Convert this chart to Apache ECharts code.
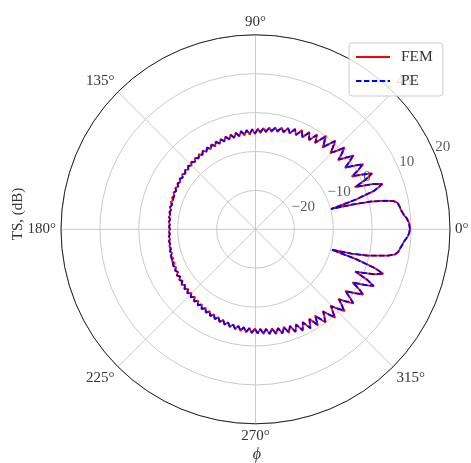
<!DOCTYPE html>
<html>
<head>
<meta charset="utf-8">
<script src="https://cdn.jsdelivr.net/npm/echarts@6/dist/echarts.min.js"></script>
<style>
  html, body { margin: 0; padding: 0; background: #ffffff; }
  #chart { width: 471px; height: 463px; }
</style>
</head>
<body>
<div id="chart"></div>
<script>
// Scattering angle phi (degrees), shared by both solutions
const phi = [
  0, 2, 4, 5.5, 7, 9, 10.5, 11.5, 12.5, 13.5, 14.3, 15,
  16.5, 18, 19.6, 21, 23, 24.3, 25.6, 27, 28.7, 30, 31.2, 32.7, 34.5,
  35.8, 37, 38.5, 40, 41.3, 42.6, 44, 45.5, 46.8, 48, 49.3, 50.6, 51.8, 53, 54.2, 55.4,
  57, 59, 61, 63, 64.9, 66.7, 68.5, 70.3, 72.1, 73.9, 75.6, 77.3, 79, 80.7, 82.3, 83.9, 85.5, 87.1, 88.7,
  90.3, 91.9, 93.5, 95.1, 96.7, 98.3, 99.9, 101.5, 103.1, 104.7, 106.3, 107.9, 109.5, 111.1, 112.7, 114.3, 115.9, 117.5, 119.1, 120.7,
  122.3, 123.9, 125.5, 127.1, 128.7, 130.3, 131.9, 133.5, 135.1, 136.7, 138.3, 139.9, 141.5, 143.1, 144.7, 146.3, 147.9, 149.5, 151.1, 152.7,
  154.3, 155.9, 157.5, 159.1, 160.7, 162.3, 163.9, 165.5, 167.1, 168.7, 170.3, 171.9, 173.5, 175.1, 176.7, 178.3, 180,
  181.6, 183.2, 184.8, 186.4, 188, 189.6, 191.2, 192.8, 194.4, 196, 197.6, 199.2, 200.8, 202.4, 204, 205.6, 207.2, 208.8, 210.4, 212,
  213.6, 215.2, 216.8, 218.4, 220, 221.6, 223.2, 224.8, 226.4, 228, 229.6, 231.2, 232.8, 234.4, 236, 237.6, 239.2, 240.8, 242.4, 244,
  245.6, 247.2, 248.8, 250.4, 252, 253.6, 255.2, 256.8, 258.4, 260, 261.6, 263.2, 264.8, 266.4, 268, 269.6, 271.2, 272.8, 274.4, 276,
  277.7, 279.4, 281.1, 282.8, 284.5, 286.2, 287.9, 289.6, 291.3, 293.1, 295, 297, 299, 301, 303,
  304.6, 305.8, 307, 308.2, 309.4, 310.7, 312, 313.2, 314.5, 316, 317.4, 318.7, 320, 321.5, 323, 324.2,
  325.5, 327.3, 328.8, 330, 331.3, 333, 334.4, 335.7, 337, 339.2, 340.8, 342, 343.5,
  345, 345.8, 346.8, 347.8, 348.8, 349.8, 351, 352.5, 354, 355.5, 357, 358.5, 360
];

// Target strength from the finite-element solution (dB)
const femTS = [
  9.7, 9.6, 9.1, 8.3, 7.8, 7.5, 7.2, 6.4, 4.0, 0.5, -4.0, -9.8,
  -3.0, 2.2, 4.7, 2.6, -2.3, 1.0, 3.3, 1.2, -1.8, 0.6, 2.4, 0.3, -2.1,
  0.0, 1.6, -0.5, -2.3, -0.3, 1.1, -1.0, -2.6, -0.7, 0.7, -1.2, -2.9, -1.2, 0.1, -1.6, -3.1,
  -0.9, -3.3, -1.4, -3.5, -1.8, -3.7, -2.2, -3.9, -2.6, -4.1, -3.0, -4.3, -3.3, -4.6, -3.6, -4.9, -3.9, -5.2, -4.1,
  -5.5, -4.2, -5.6, -4.3, -5.7, -4.4, -5.8, -4.6, -5.9, -4.8, -6.0, -4.9, -6.1, -5.1, -6.2, -5.2, -6.3, -5.4, -6.4, -5.5,
  -6.5, -5.6, -6.6, -5.8, -6.7, -5.9, -6.8, -6.0, -6.8, -6.1, -6.9, -6.3, -7.0, -6.4, -7.1, -6.5, -7.2, -6.7, -7.3, -6.8,
  -7.4, -6.9, -7.4, -7.0, -7.5, -7.1, -7.6, -7.3, -7.7, -7.4, -7.8, -7.5, -7.9, -7.6, -8.0, -7.7, -8.0,
  -7.7, -8.0, -7.6, -7.9, -7.5, -7.8, -7.4, -7.8, -7.3, -7.7, -7.1, -7.6, -7.0, -7.5, -6.8, -7.4, -6.7, -7.3, -6.5, -7.2,
  -6.4, -7.1, -6.2, -7.0, -6.1, -6.9, -5.9, -6.8, -5.8, -6.7, -5.6, -6.5, -5.4, -6.3, -5.2, -6.1, -5.0, -5.9, -4.8, -5.7,
  -4.6, -5.5, -4.4, -5.3, -4.2, -5.1, -4.0, -4.9, -3.8, -4.8, -3.6, -4.7, -3.4, -4.6, -3.3, -4.5, -3.2, -4.4, -3.0, -4.3,
  -2.8, -4.2, -2.6, -4.0, -2.3, -3.9, -2.0, -3.7, -1.6, -3.5, -1.2, -3.3, -0.8, -3.2, -0.5,
  -3.1, -1.5, 0.0, -1.3, -2.8, -1.0, 0.6, -0.9, -2.5, -0.5, 1.1, -0.4, -2.2, 0.0, 1.6, -0.2,
  -2.0, 0.5, 2.4, 0.7, -1.6, 1.6, 3.8, 1.4, -2.2, 2.6, 4.8, 2.2, -3.0,
  -9.7, -4.5, -0.5, 2.0, 4.8, 6.5, 7.2, 7.5, 7.9, 8.4, 9.1, 9.5, 9.7
];

// Target strength from the parabolic-equation solution (dB)
const peTS = [
  9.7, 9.5, 9.0, 8.4, 7.9, 7.5, 7.1, 6.2, 3.8, 0.6, -3.8, -9.9,
  -3.2, 2.0, 4.5, 2.4, -2.0, 1.2, 3.1, 1.0, -1.5, 0.4, 2.2, 0.4, -1.9,
  -0.3, 1.3, -0.4, -2.0, -0.5, 0.8, -1.1, -2.3, -0.9, 0.4, -1.1, -2.5, -1.4, -0.3, -1.6, -2.8,
  -1.2, -3.1, -1.7, -3.3, -2.1, -3.5, -2.4, -3.7, -2.8, -3.9, -3.1, -4.1, -3.5, -4.3, -3.8, -4.6, -4.0, -4.9, -4.3,
  -5.3, -4.4, -5.4, -4.5, -5.5, -4.6, -5.6, -4.8, -5.7, -5.0, -5.8, -5.1, -5.9, -5.3, -6.0, -5.4, -6.1, -5.6, -6.2, -5.7,
  -6.3, -5.8, -6.4, -6.0, -6.5, -6.1, -6.6, -6.2, -6.7, -6.3, -6.8, -6.4, -6.9, -6.6, -7.0, -6.7, -7.1, -6.8, -7.2, -6.9,
  -7.3, -7.0, -7.4, -7.1, -7.5, -7.2, -7.6, -7.3, -7.7, -7.5, -7.8, -7.6, -7.9, -7.7, -7.9, -7.8, -8.0,
  -7.8, -7.9, -7.7, -7.8, -7.6, -7.7, -7.5, -7.6, -7.3, -7.6, -7.2, -7.5, -7.1, -7.4, -6.9, -7.3, -6.8, -7.2, -6.6, -7.1,
  -6.5, -6.9, -6.3, -6.8, -6.2, -6.7, -6.0, -6.6, -5.9, -6.5, -5.7, -6.3, -5.5, -6.2, -5.3, -6.0, -5.1, -5.8, -4.9, -5.6,
  -4.7, -5.4, -4.5, -5.2, -4.3, -5.0, -4.1, -4.8, -3.9, -4.7, -3.7, -4.6, -3.5, -4.5, -3.4, -4.4, -3.3, -4.3, -3.1, -4.2,
  -2.9, -4.0, -2.7, -3.9, -2.4, -3.7, -2.2, -3.5, -1.8, -3.3, -1.4, -3.1, -1.0, -3.0, -0.8,
  -2.8, -1.7, -0.3, -1.4, -2.5, -1.2, 0.3, -1.0, -2.2, -0.7, 0.8, -0.5, -1.9, -0.2, 1.3, -0.3,
  -1.8, 0.3, 2.2, 0.8, -1.4, 1.4, 3.6, 1.5, -2.0, 2.4, 4.6, 2.3, -3.2,
  -9.8, -4.3, -0.3, 2.1, 4.7, 6.4, 7.1, 7.5, 8.0, 8.4, 9.0, 9.5, 9.7
];

// Radial ticks (dB) and the direction where their labels sit
const rTicks = [-20, -10, 0, 10, 20];
const rLabelAngle = 22.5;
const seriesNames = ['FEM', 'PE'];

const FONT = '"Liberation Serif", "DejaVu Serif", serif';
const TEXT = '#333333';
const GRID = '#c4c4c4';

const fmtMinus = v => (v < 0 ? '\u2212' + Math.abs(v) : String(v));

const chart = echarts.init(document.getElementById('chart'), null, { renderer: 'canvas' });

chart.setOption({
  animation: false,
  backgroundColor: '#ffffff',
  polar: { center: [255.5, 229.3], radius: 194.5 },
  angleAxis: {
    type: 'value', min: 0, max: 360, interval: 45,
    startAngle: 0, clockwise: false,
    axisLine: { show: true, lineStyle: { color: '#222222', width: 1 } },
    axisTick: { show: false },
    axisLabel: {
      margin: 5, color: TEXT, fontFamily: FONT, fontSize: 15,
      formatter: v => (v >= 360 ? '' : v + '\u00B0')
    },
    splitLine: { show: true, lineStyle: { color: GRID, width: 0.9 } }
  },
  radiusAxis: {
    type: 'value', min: -30, max: 20, interval: 10,
    axisLine: { show: false }, axisTick: { show: false }, axisLabel: { show: false },
    splitLine: { show: true, lineStyle: { color: GRID, width: 0.9 } }
  },
  legend: {
    data: seriesNames,
    orient: 'vertical',
    left: 349, top: 43,
    padding: [6, 10, 7, 6],
    itemGap: 8, itemWidth: 34, itemHeight: 14,
    // line-only keys: hide the marker drawn on top of the line sample
    itemStyle: { opacity: 0 },
    backgroundColor: 'rgba(255,255,255,0.8)',
    borderColor: '#cccccc', borderWidth: 1, borderRadius: 3,
    textStyle: { color: TEXT, fontFamily: FONT, fontSize: 15.5, padding: [0, 0, 0, 6], lineHeight: 14 }
  },
  series: [
    {
      name: 'rlabels', type: 'scatter', coordinateSystem: 'polar',
      symbolSize: 0, silent: true, z: 1,
      data: rTicks.map(v => [v, rLabelAngle]),
      label: {
        show: true, position: [0, 0], align: 'left', verticalAlign: 'bottom',
        color: TEXT, fontFamily: FONT, fontSize: 15,
        formatter: p => fmtMinus(p.value[0])
      }
    },
    {
      name: 'FEM', type: 'line', coordinateSystem: 'polar', z: 3,
      symbol: 'none', showSymbol: false,
      lineStyle: { color: '#ff0000', width: 1.8 },
      itemStyle: { color: '#ff0000' },
      data: phi.map((a, i) => [femTS[i], a])
    },
    {
      name: 'PE', type: 'line', coordinateSystem: 'polar', z: 4,
      symbol: 'none', showSymbol: false,
      lineStyle: { color: '#0000ff', width: 1.8, type: [5.5, 2.4] },
      itemStyle: { color: '#0000ff' },
      data: phi.map((a, i) => [peTS[i], a])
    }
  ],
  graphic: [
    {
      type: 'text', x: 18, y: 214, rotation: Math.PI / 2,
      style: { text: 'TS, (dB)', fill: TEXT, font: '15px ' + FONT, align: 'center', verticalAlign: 'middle' }
    },
    {
      type: 'text', x: 257, y: 455,
      style: { text: '\u03D5', fill: TEXT, font: 'italic 16px ' + FONT, align: 'center', verticalAlign: 'middle' }
    }
  ]
});
</script>
</body>
</html>
